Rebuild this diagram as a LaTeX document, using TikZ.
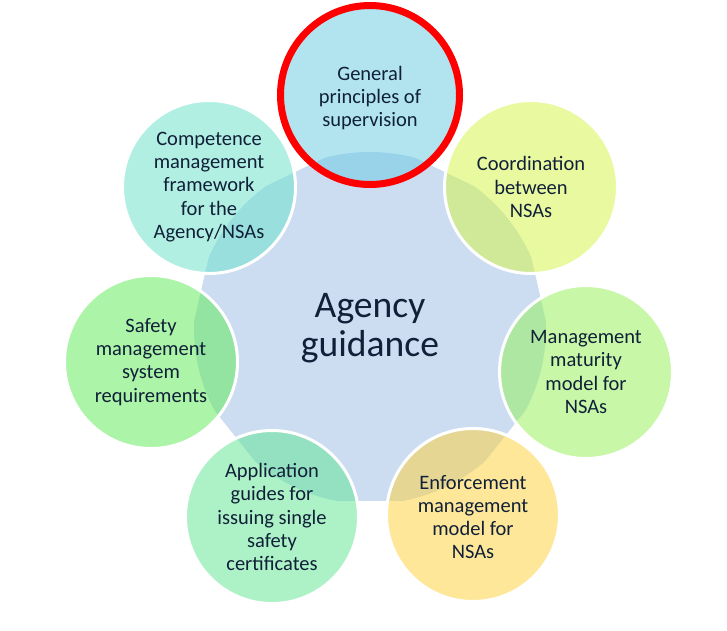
\documentclass[tikz,border=0pt]{standalone}
\usepackage{fontspec}
\setmainfont{Carlito}
\definecolor{txt}{RGB}{16,32,56}
\definecolor{hubfill}{RGB}{204,221,242}
\definecolor{cTop}{RGB}{101,203,225}
\definecolor{cCoord}{RGB}{213,245,65}
\definecolor{cMat}{RGB}{145,241,81}
\definecolor{cEnf}{RGB}{255,209,53}
\definecolor{cApp}{RGB}{93,229,145}
\definecolor{cSafe}{RGB}{91,235,81}
\definecolor{cComp}{RGB}{101,225,201}
\definecolor{ringred}{RGB}{255,0,0}
\begin{document}
\begin{tikzpicture}[x=1pt,y=-1pt,
  bubble/.style={circle, minimum size=173pt, inner sep=0pt, fill opacity=0.5, draw=white, draw opacity=1, line width=3pt},
  redbubble/.style={circle, minimum size=179pt, inner sep=0pt, fill opacity=0.5, draw=ringred, draw opacity=1, line width=7pt},
  lbl/.style={text=txt, align=center, font=\fontsize{20.5}{23.2}\selectfont, inner sep=0pt},
  hubtext/.style={text=txt, align=center, font=\fontsize{37.6}{39.5}\selectfont, inner sep=0pt}
]
\useasboundingbox[fill=white] (0,0) rectangle (727,630);
% central shape: circle cut by a heptagon
\begin{scope}[shift={(370,328)}]
  \clip (-90:192) -- (-38.571:192) -- (12.857:192) -- (64.286:192) -- (115.714:192) -- (167.143:192) -- (218.571:192) -- cycle;
  \fill[hubfill] (0,0) circle[radius=176];
\end{scope}
\node[hubtext] (hub) at (370,328) {Agency\\guidance};
% surrounding circles
\node[redbubble, fill=cTop] (gp) at (370,95) {};
\node[bubble, fill=cCoord] (coord) at (531,187) {};
\node[bubble, fill=cMat] (mat) at (586,372) {};
\node[bubble, fill=cEnf] (enf) at (473,515) {};
\node[bubble, fill=cApp] (app) at (272,517) {};
\node[bubble, fill=cSafe] (safe) at (151,362) {};
\node[bubble, fill=cComp] (comp) at (209,187) {};
% labels
\node[lbl, yshift=-3pt] at (gp) {General\\principles of\\supervision};
\node[lbl] at (coord) {Coordination\\between\\NSAs};
\node[lbl] at (mat) {Management\\maturity\\model for\\NSAs};
\node[lbl, yshift=-2pt] at (enf) {Enforcement\\management\\model for\\NSAs};
\node[lbl] at (app) {Application\\guides for\\issuing single\\safety\\certificates};
\node[lbl] at (safe) {Safety\\management\\system\\requirements};
\node[lbl] at (comp) {Competence\\management\\framework\\for the\\Agency/NSAs};
\end{tikzpicture}
\end{document}
